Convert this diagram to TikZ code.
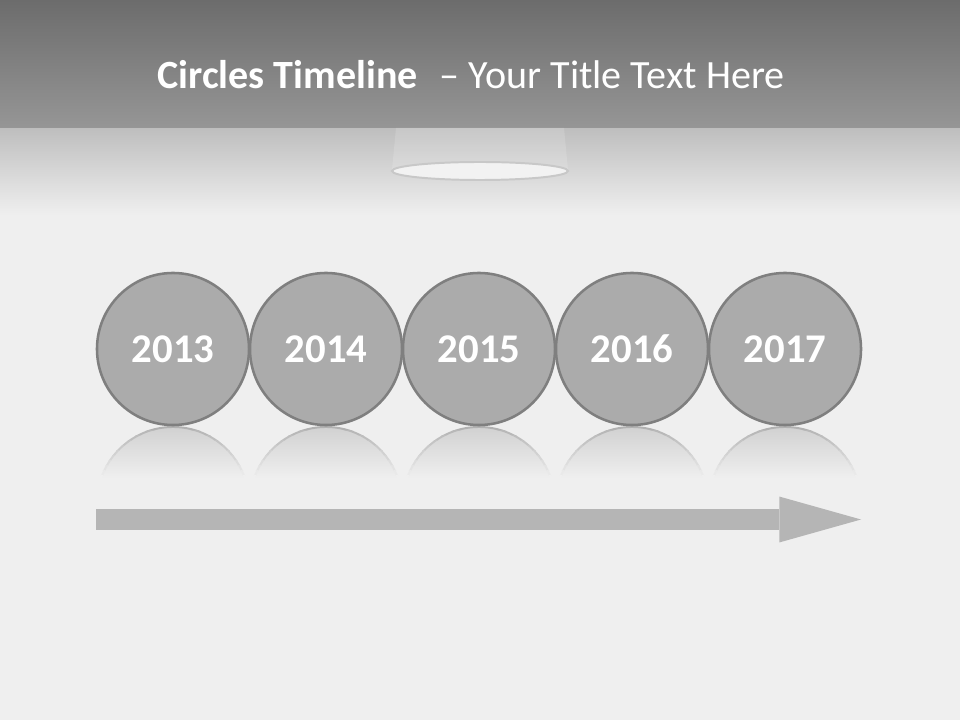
\documentclass[tikz,border=0pt]{standalone}
\usepackage{xcolor}
\usepackage{tikz}
\usetikzlibrary{arrows.meta, shapes.geometric}
\usepackage{fontspec}
\setmainfont{Carlito}
\definecolor{TLBack}{RGB}{239,239,239}
\definecolor{TLBandTop}{RGB}{108,108,108}
\definecolor{TLBandLow}{RGB}{150,150,150}
\definecolor{TLFloor}{RGB}{190,190,190}
\definecolor{TLCircle}{RGB}{171,171,171}
\definecolor{TLRim}{RGB}{127,127,127}
\definecolor{TLArrow}{RGB}{181,181,181}
\definecolor{TLLamp}{RGB}{242,242,242}
\definecolor{TLLampRim}{RGB}{200,200,200}

\begin{document}
\begin{tikzpicture}[x=0.025cm, y=-0.025cm,
          yearcircle/.style={circle, draw=TLRim, fill=TLCircle, line width=1.8pt,
                             minimum size=3.8cm, inner sep=0pt,
                             font=\fontsize{29}{34}\selectfont\bfseries, text=white},
          timearrow/.style={draw=TLArrow, line width=14.9pt,
                            -{Triangle[length={58pt 0 0}, width={32.6pt 0 0}, line width=0pt]}}
        ]
        % Background and title band
        \fill[TLBack] (0,0) rectangle (960,720);
        \shade[top color=TLFloor, bottom color=TLBack] (0,128) rectangle (960,215);
        \shade[top color=TLBandTop, bottom color=TLBandLow] (0,0) rectangle (960,128);
        \useasboundingbox (0,0) rectangle (960,720);

        % Lamp
        \fill[white, opacity=0.15] (396,128) -- (564,128) -- (568,170) -- (392,170) -- cycle;
        \node[ellipse, draw=TLLampRim, fill=TLLamp, line width=1.4pt,
              minimum width=4.4cm, minimum height=0.45cm, inner sep=0pt]
              (lamp) at (480,171) {};

        \node[font=\fontsize{28.5}{33}\selectfont, text=white] (title) at (471,75)
              {\textbf{Circles Timeline}\hspace{0.55em}– Your Title Text Here};

        % Year circles with their reflections
        \foreach \yr [count=\i] in {2013,2014,2015,2016,2017} {
          \pgfmathsetmacro{\cx}{173+153*(\i-1)}
          \begin{scope}
            \clip (\cx,503) circle[radius=1.9cm];
            \shade[top color=TLCircle!45!TLBack, bottom color=TLBack]
                  (\cx-80,426) rectangle (\cx+80,478);
          \end{scope}
          \foreach \k in {0,...,10} {
            \pgfmathtruncatemacro{\pc}{max(0,55-5.5*\k)}
            \begin{scope}
              \clip (\cx-80,{426+5*\k}) rectangle (\cx+80,{431+5*\k});
              \draw[TLRim!\pc!TLBack, line width=1.4pt] (\cx,503) circle[radius=1.9cm];
            \end{scope}
          }
          \node[yearcircle] (c\i) at (\cx,349) {\yr};
        }

        % Time arrow
        \coordinate (tl start) at (96,519.5);
        \coordinate (tl end) at (861,519.5);
        \draw[timearrow] (tl start) -- (tl end);
      \end{tikzpicture}
\end{document}
